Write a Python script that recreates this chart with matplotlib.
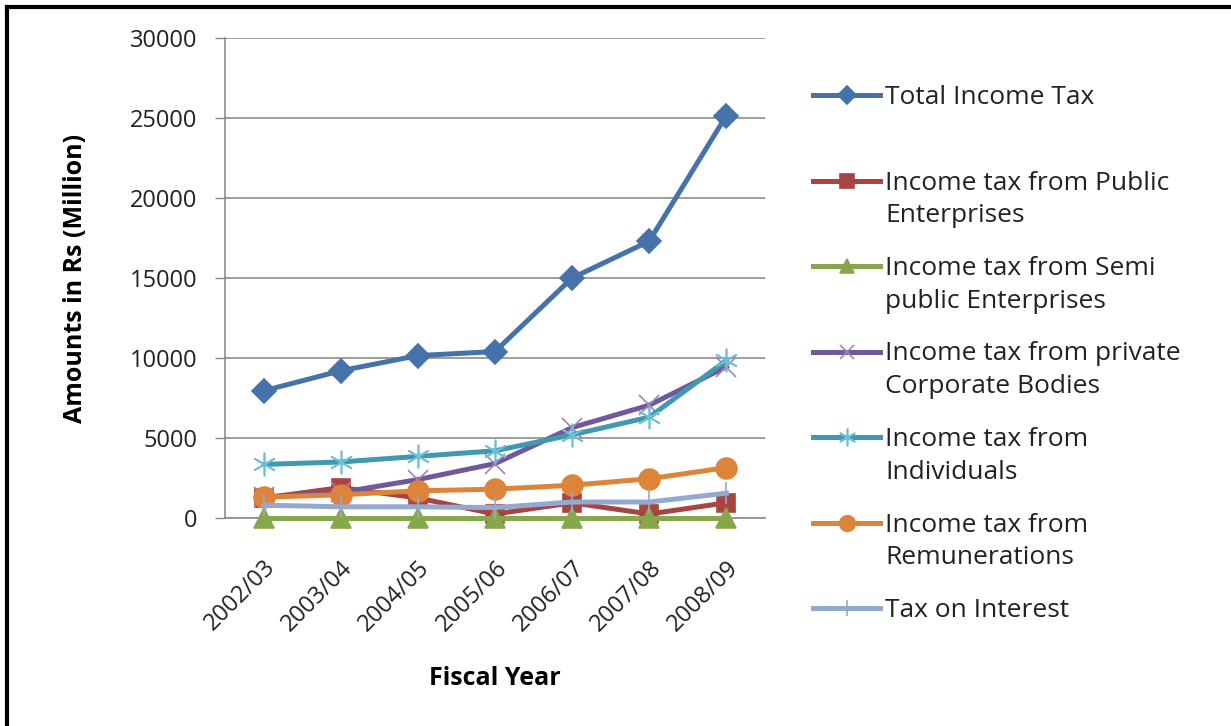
import numpy as np
import matplotlib
matplotlib.use('Agg')
from matplotlib import pyplot as plt
from matplotlib.lines import Line2D

plt.rcParams['font.family'] = ['Open Sans', 'DejaVu Sans']

# Fiscal years on the category axis
years = ['2002/03', '2003/04', '2004/05', '2005/06', '2006/07', '2007/08', '2008/09']

# Income tax collections, Rs million
total_tax = [7950, 9200, 10150, 10400, 15000, 17300, 25150]
public_ent = [1250, 1900, 1250, 250, 950, 250, 950]
semi_public = [0, 0, 0, 0, 0, 0, 0]
private_corp = [1300, 1600, 2400, 3400, 5650, 7050, 9450]
individuals = [3350, 3500, 3850, 4200, 5200, 6300, 9850]
remunerations = [1300, 1450, 1700, 1800, 2050, 2450, 3150]
interest = [800, 700, 700, 650, 1000, 1000, 1550]

labels = ['Total Income Tax',
          'Income tax from Public\nEnterprises',
          'Income tax from Semi\npublic Enterprises',
          'Income tax from private\nCorporate Bodies',
          'Income tax from\nIndividuals',
          'Income tax from\nRemunerations',
          'Tax on Interest']

# line colour, marker, marker size, marker colour
styles = [
    ('#4672AA', 'D', 12, '#4672AA'),
    ('#A94441', 's', 13, '#A94441'),
    ('#86A84B', '^', 14, '#86A84B'),
    ('#71589A', 'x', 14, '#9A86B8'),
    ('#4199B1', (6, 2, 0), 17, '#6CBFD6'),
    ('#DD843A', 'o', 15, '#DD843A'),
    ('#93A9D0', '|', 16, '#93A9D0'),
]
series = [total_tax, public_ent, semi_public, private_corp,
          individuals, remunerations, interest]

fig = plt.figure(figsize=(12.31, 7.26), dpi=100)
ax = fig.add_axes([0.1828, 0.2865, 0.4386, 0.6612])

x = np.arange(len(years))
for vals, (col, mk, ms, mcol) in zip(series, styles):
    ax.plot(x, vals, color=col, lw=3.6, marker=mk, ms=ms,
            mfc=mcol, mec=mcol, mew=1.2, solid_joinstyle='round',
            clip_on=False, zorder=3)

ax.set_xlim(-0.5, len(years) - 0.5)
ax.set_ylim(0, 30000)
ax.set_yticks(np.arange(0, 30001, 5000))
ax.set_xticks(x)
ax.set_xticklabels(years, rotation=45, ha='right', rotation_mode='anchor',
                   fontsize=17, color='#222222')
ax.tick_params(axis='x', length=0, pad=27)
ax.tick_params(axis='y', length=7, width=1, color='#8C8C8C', pad=13,
               labelsize=17, labelcolor='#222222')
ax.grid(True, axis='y', color='#8C8C8C', lw=1.2)
ax.set_axisbelow(True)
for side in ['top', 'right']:
    ax.spines[side].set_visible(False)
for side in ['left', 'bottom']:
    ax.spines[side].set_color('#8C8C8C')
    ax.spines[side].set_linewidth(1.2)

ax.set_ylabel('Amounts in Rs (Million)', fontsize=18, fontweight='bold', labelpad=30)
ax.set_xlabel('Fiscal Year', fontsize=18, fontweight='bold', labelpad=22)

# legend drawn by hand so markers sit level with the first text line
row_h = 85.5 / 726
y0 = 1 - 95 / 726
for i, (lab, (col, mk, ms, mcol)) in enumerate(zip(labels, styles)):
    yy = y0 - i * row_h
    fig.add_artist(Line2D([813 / 1231, 880 / 1231], [yy, yy], color=col, lw=3.6,
                          transform=fig.transFigure))
    fig.add_artist(Line2D([846.5 / 1231], [yy], marker=mk, ms=ms * 0.75,
                          mfc=mcol, mec=mcol, mew=1.2, transform=fig.transFigure))
    fig.text(885 / 1231, yy + 10 / 726, lab, fontsize=19, color='#222222',
             va='top', linespacing=1.42)

# chart frame (left and top edges)
fig.add_artist(Line2D([0.006, 0.006], [0, 0.991], color='black', lw=3,
                      transform=fig.transFigure))
fig.add_artist(Line2D([0.006, 1.0], [0.991, 0.991], color='black', lw=3,
                      transform=fig.transFigure))

fig.savefig('out.png', dpi=100)
